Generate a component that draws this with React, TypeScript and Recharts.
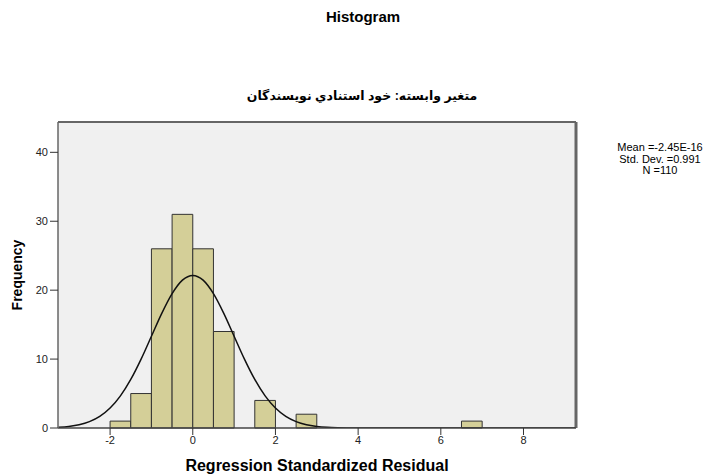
import React from 'react';
import { ComposedChart, Line, XAxis, YAxis, CartesianGrid, ReferenceArea, ReferenceLine } from 'recharts';

// histogram bins (width 0.5)
const binStart = [-2, -1.5, -1, -0.5, 0, 0.5, 1.5, 2.5, 6.5];
const binCount = [1, 5, 26, 31, 26, 14, 4, 2, 1];
const binWidth = 0.5;

// normal curve
const curveX = [
  -3.25, -3, -2.75, -2.5, -2.25, -2, -1.75, -1.5, -1.25, -1, -0.75, -0.5, -0.25, 0,
  0.25, 0.5, 0.75, 1, 1.25, 1.5, 1.75, 2, 2.25, 2.5, 2.75, 3, 3.25, 3.5, 3.75, 4,
  4.5, 5, 5.5, 6, 6.5, 7, 7.5, 8, 8.5, 9, 9.25,
];
const curveY = [
  0.1, 0.23, 0.47, 0.92, 1.68, 2.89, 4.66, 7.04, 9.99, 13.31, 16.63, 19.49, 21.45, 22.14,
  21.45, 19.49, 16.63, 13.31, 9.99, 7.04, 4.66, 2.89, 1.68, 0.92, 0.47, 0.23, 0.1, 0.04, 0.015, 0.005,
  0, 0, 0, 0, 0, 0, 0, 0, 0, 0, 0,
];

const xTicks = [-2, 0, 2, 4, 6, 8];
const yTicks = [0, 10, 20, 30, 40];
const stats = ['Mean =-2.45E-16', 'Std. Dev. =0.991', 'N =110'];

const xDomain = [-3.26, 9.27];
const yDomain = [0, 44.4];

const curveData = curveX.map((x, i) => ({ x, y: curveY[i] }));

const font = "'Liberation Sans', Arial, 'DejaVu Sans', sans-serif";
const tickStyle = { fontSize: 11, fill: '#222', fontFamily: font };

export default function App() {
  return (
    <div style={{ position: 'relative', width: 719, height: 475, marginTop: -8, marginLeft: -8, fontFamily: font, background: '#fff' }}>
      <div style={{ position: 'absolute', left: 263, top: 8, width: 200, textAlign: 'center', fontSize: 15, fontWeight: 'bold' }}>
        Histogram
      </div>
      <div style={{ position: 'absolute', left: 162, top: 88, width: 400, textAlign: 'center', fontSize: 12.5, fontWeight: 'bold', direction: 'rtl' }}>
        متغير وابسته: خود استنادي نويسندگان
      </div>
      <div style={{ position: 'absolute', left: 605, top: 142, width: 110, textAlign: 'center', fontSize: 11, lineHeight: '11.5px', whiteSpace: 'nowrap' }}>
        {stats.map((s) => (
          <div key={s}>{s}</div>
        ))}
      </div>
      <div style={{ position: 'absolute', left: 17, top: 275, transform: 'translate(-50%, -50%) rotate(-90deg)', fontSize: 14, fontWeight: 'bold', whiteSpace: 'nowrap' }}>
        Frequency
      </div>
      <div style={{ position: 'absolute', left: 117, top: 457, width: 400, textAlign: 'center', fontSize: 16, fontWeight: 'bold' }}>
        Regression Standardized Residual
      </div>
      <ComposedChart width={719} height={475} data={curveData} margin={{ top: 122, right: 143, bottom: 17, left: 8 }}>
        <CartesianGrid fill="#f0f0f0" horizontal={false} vertical={false} />
        <XAxis
          dataKey="x"
          type="number"
          domain={xDomain}
          ticks={xTicks}
          allowDataOverflow
          height={30}
          tickSize={7}
          tickMargin={1}
          tick={tickStyle}
          axisLine={{ stroke: '#444', strokeWidth: 1.5 }}
          tickLine={{ stroke: '#333' }}
        />
        <YAxis
          type="number"
          domain={yDomain}
          ticks={yTicks}
          allowDataOverflow
          width={50}
          tickSize={8}
          tickMargin={2}
          tick={tickStyle}
          axisLine={{ stroke: '#666', strokeWidth: 1.5 }}
          tickLine={{ stroke: '#333' }}
        />
        {binStart.map((b, i) => (
          <ReferenceArea
            key={b}
            x1={b}
            x2={b + binWidth}
            y1={0}
            y2={binCount[i]}
            fill="#d4cf98"
            fillOpacity={1}
            stroke="#333"
            strokeWidth={1}
            strokeOpacity={1}
          />
        ))}
        <ReferenceLine y={yDomain[1]} stroke="#666" strokeWidth={2} ifOverflow="visible" />
        <ReferenceLine x={xDomain[1]} stroke="#666" strokeWidth={3} ifOverflow="visible" />
        <Line type="monotone" dataKey="y" stroke="#111" strokeWidth={1.5} dot={false} activeDot={false} isAnimationActive={false} />
      </ComposedChart>
    </div>
  );
}
